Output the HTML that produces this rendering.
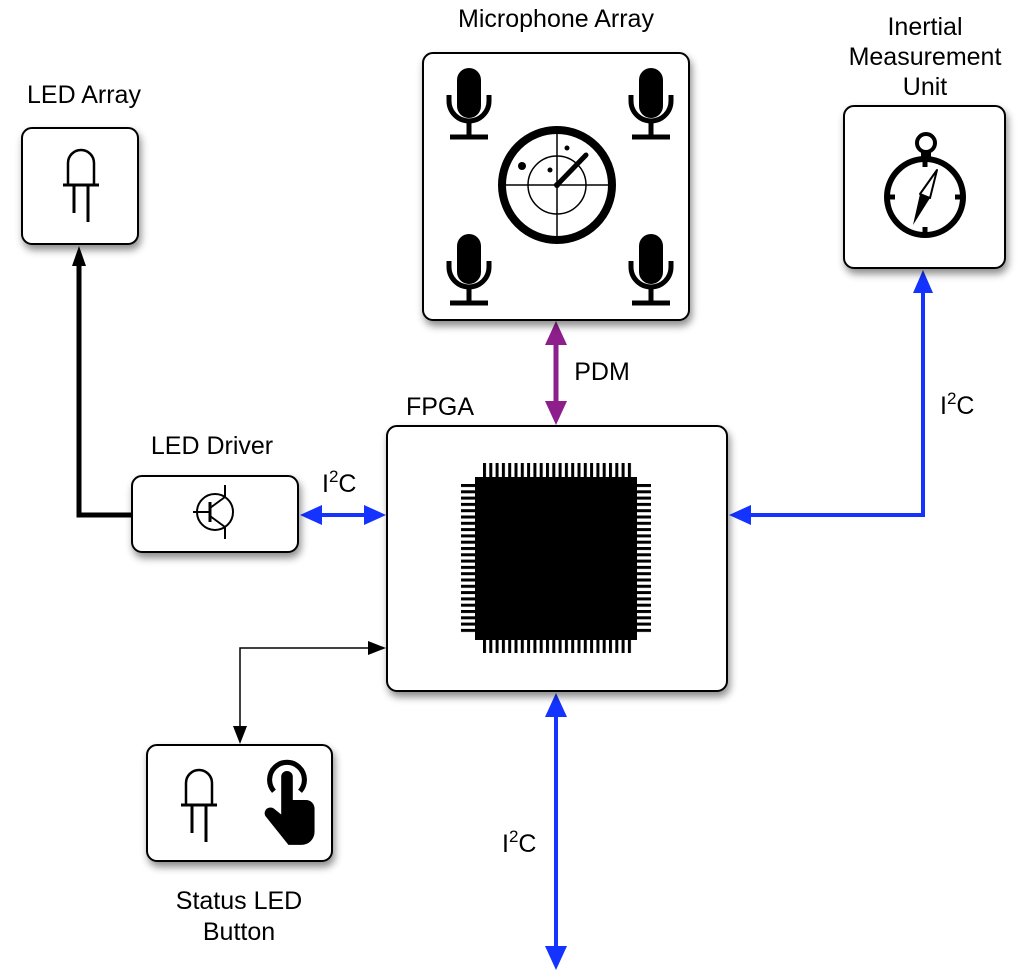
<!DOCTYPE html>
<html><head><meta charset="utf-8"><style>
html,body{margin:0;padding:0;background:#fff;}
svg{display:block;font-family:"Liberation Sans",sans-serif;}
</style></head><body>
<svg width="1024" height="980" viewBox="0 0 1024 980" xmlns="http://www.w3.org/2000/svg">
<defs>
<filter id="sh" x="-20%" y="-20%" width="140%" height="140%">
<feDropShadow dx="2" dy="5" stdDeviation="4" flood-color="#000" flood-opacity="0.45"/>
</filter>
<pattern id="ph" x="483" y="0" width="6.3" height="20" patternUnits="userSpaceOnUse"><rect x="0" y="0" width="3" height="20" fill="#000"/></pattern>
<pattern id="pv" x="0" y="484" width="20" height="6.3" patternUnits="userSpaceOnUse"><rect x="0" y="0" width="20" height="3" fill="#000"/></pattern>
<g id="mic">
<rect x="-12" y="0" width="24" height="50" rx="12" fill="#000"/>
<path d="M-20,27 v6 a20,20 0 0 0 40,0 v-6" fill="none" stroke="#000" stroke-width="5"/>
<line x1="0" y1="53" x2="0" y2="68" stroke="#000" stroke-width="5"/>
<line x1="-19" y1="69" x2="19" y2="69" stroke="#000" stroke-width="5"/>
</g>
<g id="led">
<path d="M-13,35 v-22 a13,13 0 0 1 26,0 v22" fill="none" stroke="#000" stroke-width="2.5"/>
<line x1="-18" y1="35" x2="18" y2="35" stroke="#000" stroke-width="3"/>
<line x1="-7" y1="35" x2="-7" y2="63" stroke="#000" stroke-width="3"/>
<line x1="7" y1="35" x2="7" y2="72" stroke="#000" stroke-width="3"/>
</g>
</defs>

<!-- connectors -->
<polyline points="132,515 79,515 79,262" fill="none" stroke="#000" stroke-width="5"/>
<polygon points="79,246 72,266 86,266" fill="#000"/>

<line x1="318" y1="515" x2="368" y2="515" stroke="#1433ff" stroke-width="4"/>
<polygon points="300,515 322,505 322,525" fill="#1433ff"/>
<polygon points="386,515 364,505 364,525" fill="#1433ff"/>

<polyline points="748,515 923,515 923,290" fill="none" stroke="#1433ff" stroke-width="4"/>
<polygon points="729,515 751,505 751,525" fill="#1433ff"/>
<polygon points="923,270 913,293 933,293" fill="#1433ff"/>

<line x1="556" y1="340" x2="556" y2="405" stroke="#8e1e8c" stroke-width="5"/>
<polygon points="556,321 545,345 567,345" fill="#8e1e8c"/>
<polygon points="556,425 545,401 567,401" fill="#8e1e8c"/>

<line x1="556" y1="712" x2="556" y2="950" stroke="#1433ff" stroke-width="4"/>
<polygon points="556,693 545,717 567,717" fill="#1433ff"/>
<polygon points="556,970 545,946 567,946" fill="#1433ff"/>

<polyline points="372,648 240,648 240,730" fill="none" stroke="#000" stroke-width="1.5"/>
<polygon points="386,648 368,641 368,655" fill="#000"/>
<polygon points="240,744 233,726 247,726" fill="#000"/>

<!-- boxes -->
<g fill="#fff" stroke="#000" stroke-width="2" filter="url(#sh)">
<rect x="22" y="128" width="116" height="116" rx="10"/>
<rect x="423" y="53" width="266" height="267" rx="10"/>
<rect x="844" y="106" width="161" height="162" rx="10"/>
<rect x="387" y="426" width="340" height="265" rx="10"/>
<rect x="132" y="476" width="166" height="76" rx="10"/>
<rect x="147" y="745" width="185" height="116" rx="10"/>
</g>

<!-- labels -->
<g font-size="25" fill="#000" text-anchor="middle">
<text x="84" y="103">LED Array</text>
<text x="556" y="27">Microphone Array</text>
<text x="925" y="35">Inertial</text>
<text x="925" y="65">Measurement</text>
<text x="925" y="95">Unit</text>
<text x="440" y="415">FPGA</text>
<text x="212" y="454">LED Driver</text>
<text x="239" y="909">Status LED</text>
<text x="239" y="940">Button</text>
<text x="602" y="380">PDM</text>
</g>
<g font-size="25" fill="#000">
<text x="322" y="492">I<tspan dy="-10" font-size="17">2</tspan><tspan dy="10">C</tspan></text>
<text x="940" y="414">I<tspan dy="-10" font-size="17">2</tspan><tspan dy="10">C</tspan></text>
<text x="502" y="852">I<tspan dy="-10" font-size="17">2</tspan><tspan dy="10">C</tspan></text>
</g>

<!-- LED array icon -->
<use href="#led" x="81" y="150"/>
<!-- status icons -->
<use href="#led" x="199" y="770"/>
<g transform="translate(287,784) scale(1.45)">
<path d="M-9,5 a12,12 0 1 1 18,0" fill="none" stroke="#000" stroke-width="3.5"/>
<path d="M-4,-5 a4,4 0 0 1 8,0 v16 h9 a6,6 0 0 1 6,6 v16 a9,9 0 0 1 -9,9 h-9 l-16,-20 a4,4 0 0 1 6,-5 l5,4 z" fill="#000"/>
</g>

<!-- transistor -->
<g transform="translate(215,512)" fill="none" stroke="#000" stroke-width="2">
<circle cx="0" cy="0" r="18"/>
<line x1="-22" y1="0" x2="-5" y2="0"/>
<line x1="-5" y1="-10" x2="-5" y2="10" stroke-width="3"/>
<line x1="-5" y1="-4" x2="10" y2="-15"/>
<line x1="10" y1="-15" x2="10" y2="-27"/>
<line x1="-5" y1="4" x2="10" y2="15"/>
<line x1="10" y1="15" x2="10" y2="27"/>
</g>

<!-- mics -->
<use href="#mic" x="469" y="68"/>
<use href="#mic" x="651" y="68"/>
<use href="#mic" x="469" y="234"/>
<use href="#mic" x="651" y="234"/>
<!-- radar -->
<g transform="translate(557,185)">
<circle r="55" fill="none" stroke="#000" stroke-width="8"/>
<circle r="29" fill="none" stroke="#000" stroke-width="1.5"/>
<line x1="-52" y1="0" x2="52" y2="0" stroke="#000" stroke-width="1.5"/>
<line x1="0" y1="-52" x2="0" y2="52" stroke="#000" stroke-width="1.5"/>
<line x1="0" y1="0" x2="29" y2="-30" stroke="#000" stroke-width="5" stroke-linecap="round"/>
<circle cx="-35" cy="-19" r="4" fill="#000"/>
<circle cx="-7" cy="-15" r="2.5" fill="#000"/>
<circle cx="10" cy="-37" r="2.5" fill="#000"/>
<circle r="3" fill="#000"/>
</g>

<!-- compass -->
<g transform="translate(925,197)">
<circle cx="1" cy="-54" r="9" fill="none" stroke="#000" stroke-width="4"/>
<rect x="-4" y="-46" width="10" height="8" fill="#000"/>
<circle r="38" fill="none" stroke="#000" stroke-width="6"/>
<rect x="-2.5" y="-40" width="5" height="10" fill="#000"/>
<rect x="-2.5" y="30" width="5" height="10" fill="#000"/>
<rect x="-40" y="-2.5" width="10" height="5" fill="#000"/>
<rect x="30" y="-2.5" width="10" height="5" fill="#000"/>
<polygon points="-12,28 5,1 -5,-3" fill="#000"/>
<polygon points="12,-27 5,1 -5,-3" fill="#fff" stroke="#000" stroke-width="2" stroke-linejoin="round"/>
</g>

<!-- chip -->
<rect x="475" y="477" width="162" height="163" fill="#000"/>
<rect x="483" y="463" width="150" height="14" fill="url(#ph)"/>
<rect x="483" y="640" width="150" height="13" fill="url(#ph)"/>
<rect x="461" y="484" width="14" height="150" fill="url(#pv)"/>
<rect x="637" y="484" width="14" height="150" fill="url(#pv)"/>
</svg>
</body></html>
